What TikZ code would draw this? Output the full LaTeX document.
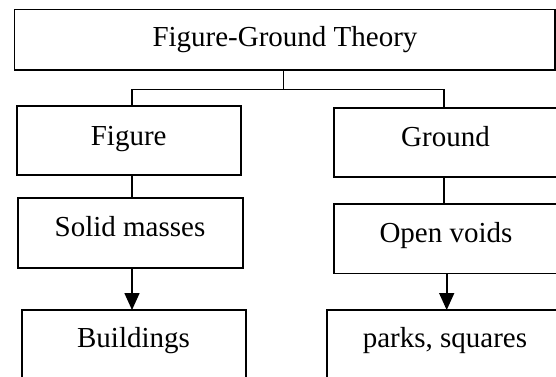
\documentclass[tikz,border=0pt]{standalone}
\usepackage{fontspec}
\setmainfont{Liberation Serif}
\usetikzlibrary{arrows.meta}
\begin{document}
\begin{tikzpicture}[x=1pt,y=-1pt,
  box/.style={draw, line width=1.6pt, inner sep=0pt, outer sep=0pt, anchor=north west},
  lbl/.style={font=\fontsize{29}{34}\selectfont, inner sep=0pt, anchor=base},
  conn/.style={line width=1.6pt},
  arr/.style={conn, -{Triangle[length=17pt,width=15pt]}}]
\path[use as bounding box, clip] (0,0) rectangle (556,376);
\fill[white] (0,0) rectangle (556,376);
% boxes
\node[box, minimum width=540.5pt, minimum height=60.5pt] (top) at (14.5,9.5) {};
\node[box, minimum width=224pt, minimum height=69pt] (fig) at (17,106) {};
\node[box, minimum width=240pt, minimum height=69pt] (gnd) at (333.7,108) {};
\node[box, minimum width=225pt, minimum height=70pt] (sol) at (18,198) {};
\node[box, minimum width=240pt, minimum height=69.3pt] (opn) at (333.7,204) {};
\node[box, minimum width=224pt, minimum height=80pt] (bld) at (21.7,310) {};
\node[box, minimum width=240pt, minimum height=80pt] (prk) at (327,310) {};
% labels
\node[lbl] (tTop) at (285,46.7) {Figure-Ground Theory};
\node[lbl] (tFig) at (128.7,145) {Figure};
\node[lbl] (tGnd) at (445.5,146.7) {Ground};
\node[lbl] (tSol) at (130,236) {Solid masses};
\node[lbl] (tOpn) at (446,242) {Open voids};
\node[lbl] (tBld) at (133.5,347.7) {Buildings};
\node[lbl] (tPrk) at (445,347.7) {parks, squares};
% connectors
\coordinate (j) at (283.3,89.3);
\coordinate (jl) at (132,89.3);
\coordinate (jr) at (444,89.3);
\coordinate (ar) at (446.7,290);
\draw[conn] (top.south -| j) -- (j);
\draw[conn] (fig.north -| jl) -- (jl) -- (jr) -- (gnd.north -| jr);
\draw[conn] (fig.south -| jl) -- (sol.north -| jl);
\draw[conn] (gnd.south -| jr) -- (opn.north -| jr);
\draw[arr] (sol.south -| jl) -- (bld.north -| jl);
\draw[arr] (opn.south -| ar) -- (prk.north -| ar);
\end{tikzpicture}
\end{document}
